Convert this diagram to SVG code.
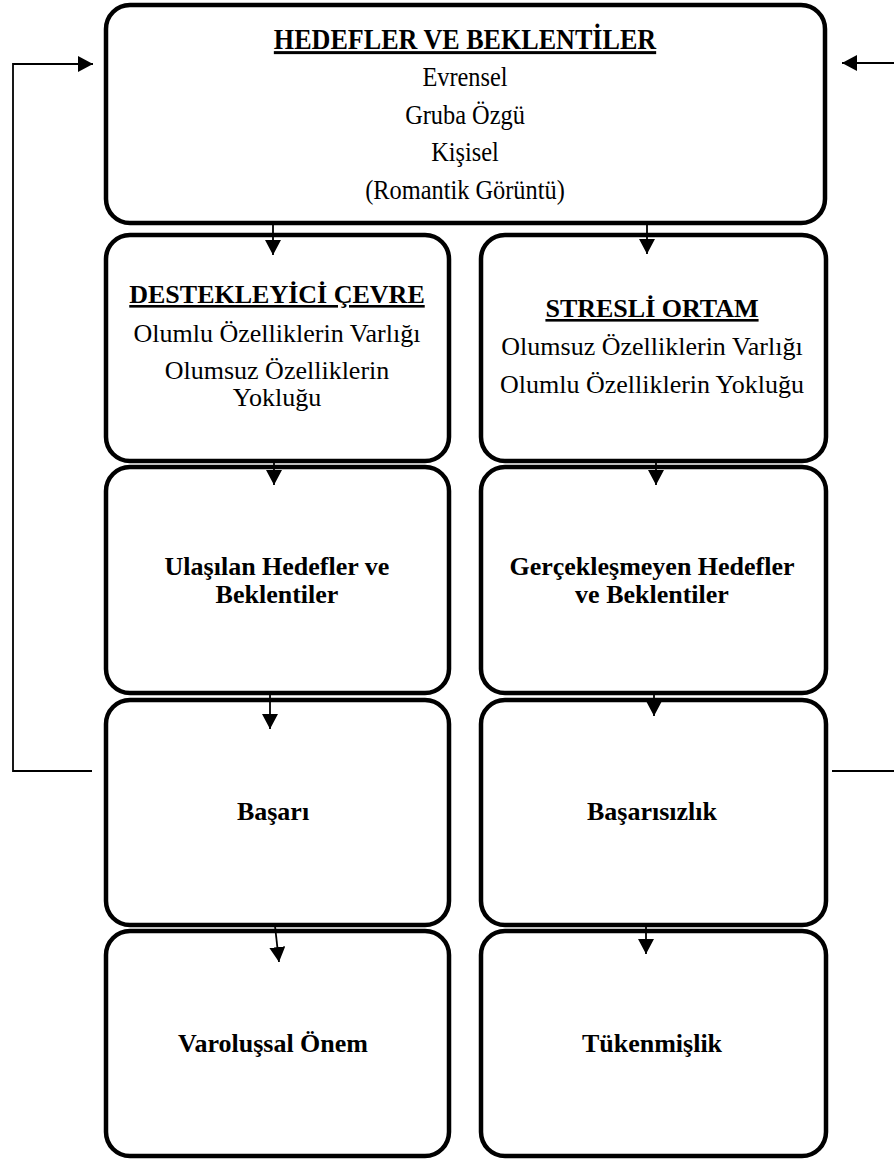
<svg xmlns="http://www.w3.org/2000/svg" width="894" height="1162" viewBox="0 0 894 1162">
<defs>
<style>
.box{fill:#fff;stroke:#000;stroke-width:4.5}
.t{font-family:"Liberation Serif","Times New Roman",serif;fill:#000;text-anchor:middle}
.b{font-weight:bold}
.u{text-decoration:underline}
.c{fill:none;stroke:#000;stroke-width:1.8}
</style>
<marker id="ah" markerUnits="userSpaceOnUse" markerWidth="16" markerHeight="16" viewBox="0 0 16 16" refX="15" refY="8" orient="auto">
<path d="M0,0 L15,8 L0,16 Z" fill="#000"/>
</marker>
</defs>
<rect width="894" height="1162" fill="#fff"/>

<g id="hedefler">
<rect class="box" x="106" y="5" width="719" height="218" rx="24"/>
<g transform="translate(465,0) scale(0.87,1)">
<text class="t b u" x="0" y="49" font-size="30">HEDEFLER VE BEKLENTİLER</text>
<text class="t" x="0" y="86" font-size="28">Evrensel</text>
<text class="t" x="0" y="124" font-size="28">Gruba Özgü</text>
<text class="t" x="0" y="161" font-size="28">Kişisel</text>
<text class="t" x="0" y="199" font-size="28">(Romantik Görüntü)</text>
</g>
</g>

<g id="destekleyici">
<rect class="box" x="106" y="235" width="343" height="226" rx="24"/>
<text class="t b u" x="277" y="303" font-size="26">DESTEKLEYİCİ ÇEVRE</text>
<text class="t" x="277" y="342" font-size="26">Olumlu Özelliklerin Varlığı</text>
<text class="t" x="277" y="379" font-size="26">Olumsuz Özelliklerin</text>
<text class="t" x="277" y="406" font-size="26">Yokluğu</text>
</g>

<g id="stresli">
<rect class="box" x="481" y="235" width="345" height="226" rx="24"/>
<text class="t b u" x="652" y="317" font-size="26">STRESLİ ORTAM</text>
<text class="t" x="652" y="355" font-size="26">Olumsuz Özelliklerin Varlığı</text>
<text class="t" x="652" y="393" font-size="26">Olumlu Özelliklerin Yokluğu</text>
</g>

<g id="ulasilan">
<rect class="box" x="106" y="467" width="343" height="226" rx="24"/>
<text class="t b" x="277" y="575" font-size="26">Ulaşılan Hedefler ve</text>
<text class="t b" x="277" y="603" font-size="26">Beklentiler</text>
</g>

<g id="gerceklesmeyen">
<rect class="box" x="481" y="467" width="345" height="226" rx="24"/>
<text class="t b" x="652" y="575" font-size="26">Gerçekleşmeyen Hedefler</text>
<text class="t b" x="652" y="603" font-size="26">ve Beklentiler</text>
</g>

<g id="basari">
<rect class="box" x="106" y="700" width="343" height="225" rx="24"/>
<text class="t b" x="273" y="820" font-size="26">Başarı</text>
</g>

<g id="basarisizlik">
<rect class="box" x="481" y="700" width="345" height="225" rx="24"/>
<text class="t b" x="652" y="820" font-size="26">Başarısızlık</text>
</g>

<g id="varolussal">
<rect class="box" x="106" y="931" width="343" height="225" rx="24"/>
<text class="t b" x="273" y="1052" font-size="26">Varoluşsal Önem</text>
</g>

<g id="tukenmislik">
<rect class="box" x="481" y="931" width="345" height="225" rx="24"/>
<text class="t b" x="652" y="1052" font-size="26">Tükenmişlik</text>
</g>

<g id="connectors">
<line class="c" x1="273" y1="225" x2="273" y2="255" marker-end="url(#ah)"/>
<line class="c" x1="647" y1="225" x2="647" y2="254" marker-end="url(#ah)"/>
<line class="c" x1="274" y1="461" x2="274" y2="485" marker-end="url(#ah)"/>
<line class="c" x1="656" y1="461" x2="656" y2="485" marker-end="url(#ah)"/>
<line class="c" x1="270" y1="694" x2="270" y2="729" marker-end="url(#ah)"/>
<line class="c" x1="654" y1="694" x2="654" y2="716" marker-end="url(#ah)"/>
<line class="c" x1="275" y1="926" x2="279" y2="962" marker-end="url(#ah)"/>
<line class="c" x1="646" y1="926" x2="646" y2="954" marker-end="url(#ah)"/>
<polyline class="c" points="92,771 13,771 13,64 93,64" marker-end="url(#ah)"/>
<polyline class="c" points="832,771 900,771 900,63 842,63" marker-end="url(#ah)"/>
</g>
</svg>
